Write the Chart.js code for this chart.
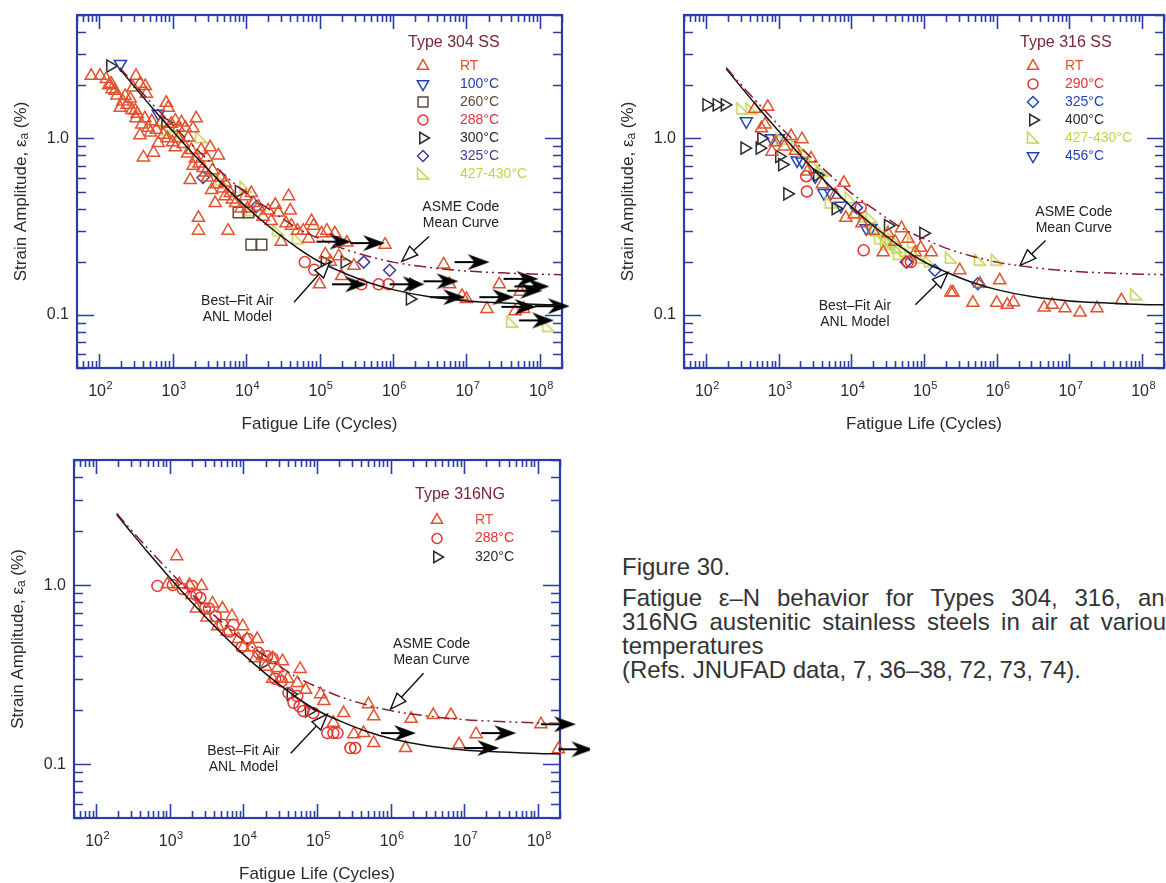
<!DOCTYPE html>
<html>
<head>
<meta charset="utf-8">
<title>Fatigue e-N behavior of austenitic stainless steels</title>
<script src="https://cdn.jsdelivr.net/npm/chart.js@4.4.1/dist/chart.umd.min.js"></script>
<style>
  html, body { margin: 0; padding: 0; background: #fff; }
  body { width: 1166px; height: 883px; position: relative; overflow: hidden; font-family: "Liberation Sans", Arial, sans-serif; }
  canvas { position: absolute; }
  #c304 { left: 0; top: 0; }
  #c316 { left: 600px; top: 0; }
  #c316ng { left: 0; top: 445px; }
  .caption { position: absolute; left: 622px; top: 555px; width: 556px; color: #333; font-size: 24px; line-height: 24px; }
  .caption .fig { margin-bottom: 7px; }
  .caption .just { text-align: justify; text-align-last: justify; }
</style>
</head>
<body>
<canvas id="c304" width="590" height="445"></canvas>
<canvas id="c316" width="600" height="445"></canvas>
<canvas id="c316ng" width="590" height="438"></canvas>
<div class="caption">
  <div class="fig">Figure 30.</div>
  <div class="just">Fatigue &epsilon;&ndash;N behavior for Types 304, 316, and</div>
  <div class="just">316NG austenitic stainless steels in air at various</div>
  <div>temperatures</div>
  <div>(Refs. JNUFAD data, 7, 36&ndash;38, 72, 73, 74).</div>
</div>
<script>
// ---- axis ticks ----
const X_TICK_EXPONENTS = [2, 3, 4, 5, 6, 7, 8];
const Y_TICKS = [0.1, 1.0];
const Y_TICK_LABELS = ['0.1', '1.0'];

// ---- design curves (fatigue life in cycles, strain amplitude in %) ----
const curveN   = [190, 300, 500, 1e3, 2e3, 5e3, 1e4, 2e4, 5e4, 1e5, 2e5, 5e5, 1e6, 3e6, 1e7, 3e7, 1e8, 2e8];
const anlEps   = [2.48, 1.97, 1.53, 1.10, 0.80, 0.54, 0.41, 0.32, 0.24, 0.20, 0.175, 0.151, 0.139, 0.127, 0.120, 0.117, 0.1145, 0.114];
const asmeEps  = [2.52, 2.03, 1.61, 1.19, 0.89, 0.625, 0.49, 0.40, 0.31, 0.27, 0.239, 0.213, 0.199, 0.186, 0.177, 0.173, 0.170, 0.169];

// ---- Type 304 SS ----
const rt304 = [[78,2.26],[103,2.26],[125,2.17],[146,2.04],[165,1.86],[194,1.49],[226,1.74],[265,1.68],[290,1.94],[318,2.26],
  [360,2.04],[425,1.98],[440,1.79],[310,1.44],[318,1.30],[360,1.04],[400,0.78],[465,1.15],[500,1.08],[550,0.83],[640,0.94],
  [820,1.59],[870,1.49],[700,1.23],[960,1.21],[1090,1.26],[1200,1.15],[1320,1.23],[1490,1.15],[1200,1.0],[1090,0.89],
  [1630,1.01],[1900,1.14],[2100,1.30],[1800,0.86],[2050,0.77],[1900,0.70],[1740,0.58],[2450,0.86],[2880,0.78],[2800,0.64],
  [3250,0.89],[4200,0.80],[3400,0.51],[4500,0.60],[3800,0.43],[5200,0.56],[6100,0.49],[5200,0.47],[2250,0.355],[2250,0.30],
  [5700,0.30],[7200,0.43],[9800,0.47],[11800,0.49],[12600,0.43],[14800,0.41],[20000,0.39],[25000,0.42],[38000,0.47],
  [40000,0.39],[27500,0.38],[35000,0.33],[30000,0.26],[41500,0.32],[78000,0.34],[83000,0.32],[71000,0.27],[107000,0.29],
  [126000,0.30],[162000,0.29],[236000,0.257],[183000,0.215],[294000,0.19],[200000,0.166],[100000,0.149],[780000,0.25],
  [4.9e6,0.193],[5.9e6,0.149],[8.7e6,0.128],[1.0e7,0.123],[1.9e7,0.108],[2.8e7,0.149],[5.4e7,0.135],[4.6e7,0.105],[6e7,0.108],
  [135,2.0],[150,1.9],[175,1.75],[210,1.62],[240,1.55],[280,1.45],[330,1.38],[380,1.2],[420,1.3],[520,1.25],[600,1.12],
  [750,1.05],[850,1.0],[1000,0.95],[1400,0.93],[1600,0.82],[2300,0.72],[2600,0.68],[3000,0.6],[3500,0.66],[4000,0.55],
  [4800,0.52],[6500,0.45],[8500,0.4],[10500,0.4],[17000,0.36],[22000,0.34],[50000,0.3],[60000,0.3],[120000,0.22],[140000,0.2]];
const t100_304 = [[195,2.64],[640,1.38]];
const t260_304 = [[7900,0.38],[10800,0.38],[11800,0.25],[16200,0.25]];
const t288_304 = [[63000,0.199],[85000,0.18],[372000,0.149],[640000,0.149],[870000,0.149]];
const t300_304 = [[142,2.57],[800,1.23],[8000,0.5],[118000,0.199],[220000,0.199],[1.7e6,0.123],[1.9e6,0.149]];
const t325_304 = [[2600,0.60],[13800,0.41],[400000,0.199],[900000,0.179]];
const t427_304 = [[820,1.11],[1090,1.08],[2450,1.01],[4600,0.58],[9800,0.53],[11800,0.39],[27500,0.30],[51000,0.27],[4.2e7,0.091],[1.3e8,0.086]];
const runout304 = [[91000,0.26],[2.6e5,0.255],[148000,0.149],[9e5,0.149],[2.6e6,0.155],[3.2e6,0.126],[6.9e6,0.199],
  [1.5e7,0.126],[3.2e7,0.16],[4.5e7,0.145],[3.6e7,0.137],[3e7,0.111],[8.5e7,0.112],[5.2e7,0.093]];

// ---- Type 316 SS ----
const rt316 = [[470,1.47],[710,1.51],[580,1.14],[810,0.84],[1490,1.03],[2100,0.99],[2800,0.77],[7900,0.56],[8400,0.355],
  [27500,0.226],[32000,0.29],[49000,0.31],[76000,0.226],[126000,0.226],[234000,0.134],[250000,0.134],[310000,0.179],
  [470000,0.117],[590000,0.15],[1.0e6,0.117],[1.1e6,0.157],[1.4e6,0.114],[1.7e6,0.118],[4.5e6,0.11],[5.8e6,0.114],
  [8.7e6,0.109],[1.4e7,0.103],[2.4e7,0.109],[5.2e7,0.121],
  [650,1.2],[900,0.95],[1200,0.9],[1700,0.85],[2500,0.65],[4000,0.55],[6000,0.48],[11000,0.37],[20000,0.3],[40000,0.26],
  [90000,0.24],[14000,0.33],[60000,0.27]];
const t290_316 = [[2400,0.61],[2450,0.50],[13500,0.405],[14800,0.232],[60000,0.199],[66000,0.199]];
const t325_316 = [[11800,0.405],[57000,0.199],[141000,0.179],[550000,0.15]];
const t400_316 = [[102,1.55],[141,1.55],[182,1.55],[340,0.88],[550,0.88],[580,1.0],[1020,0.79],[1120,0.71],[1320,0.485],
  [3400,0.62],[6100,0.40],[32000,0.32],[98000,0.29]];
const t427_316 = [[318,1.47],[425,1.47],[1100,0.99],[1800,0.9],[2250,0.84],[3100,0.71],[4000,0.65],[5200,0.43],[9800,0.46],
  [19000,0.355],[25000,0.27],[35000,0.257],[42000,0.24],[71000,0.257],[234000,0.21],[590000,0.204],[1.0e6,0.204],[8.3e7,0.13],
  [12000,0.38],[15000,0.36],[22000,0.3],[28000,0.29],[30000,0.25],[38000,0.27],[45000,0.22],[55000,0.23],[65000,0.22],
  [90000,0.21],[120000,0.2]];
const t456_316 = [[360,1.25],[800,1.0],[1000,1.0],[1800,0.75],[2100,0.74],[3200,0.61],[4200,0.49],[5200,0.49],[7200,0.415],
  [16000,0.31],[18600,0.31]];

// ---- Type 316NG ----
const rt316ng = [[1240,1.45],[930,1.01],[1350,1.01],[1850,1.0],[2700,0.99],[2300,0.74],[3800,0.79],[5200,0.74],[7000,0.67],
  [9800,0.59],[4500,0.59],[8500,0.5],[11200,0.5],[15400,0.5],[14500,0.39],[18000,0.40],[25000,0.39],[34000,0.376],
  [29000,0.344],[59000,0.34],[25000,0.30],[31500,0.30],[54000,0.284],[112000,0.246],[124000,0.225],[230000,0.193],
  [167000,0.17],[316000,0.147],[430000,0.149],[590000,0.131],[500000,0.216],[590000,0.185],[1.6e6,0.123],[1.9e6,0.179],
  [3.8e6,0.188],[6.6e6,0.188],[8.5e6,0.129],[1.45e7,0.147],[1.1e8,0.167],[1.9e8,0.121],
  [2000,0.88],[3200,0.66],[6000,0.55],[10000,0.45],[13000,0.45],[20000,0.35],[40000,0.3],[70000,0.26]];
const t288_316ng = [[680,0.99],[1100,1.0],[2000,0.99],[2600,0.85],[3000,0.74],[3400,0.74],[5200,0.6],[7300,0.6],[11500,0.5],
  [21000,0.40],[25000,0.39],[27000,0.30],[41000,0.25],[54000,0.24],[65000,0.198],[89000,0.193],[138000,0.149],
  [167000,0.149],[190000,0.149],[284000,0.123],[330000,0.123],
  [1500,0.95],[2300,0.88],[4200,0.67],[6500,0.55],[9500,0.45],[16000,0.42],[33000,0.29],[48000,0.22],[58000,0.21]];
const t320_316ng = [[18700,0.367],[44000,0.246],[78000,0.198]];
const runout316ng = [[7.4e5,0.149],[1.7e7,0.149],[1.0e7,0.123],[1.1e8,0.167],[1.9e8,0.121]];

// ---- styling ----
const N_MIN = 50, N_MAX = 2e8, EPS_MIN = 0.05, EPS_MAX = 5;
const FONT = '"Liberation Sans", Arial, sans-serif';
const FRAME = '#2b3ca6';
const TEXT = '#2a2a2a';

function wedge(color) {
  const c = document.createElement('canvas');
  c.width = 16; c.height = 16;
  const g = c.getContext('2d');
  g.strokeStyle = color; g.lineWidth = 1.5;
  g.beginPath(); g.moveTo(2.5, 2); g.lineTo(2.5, 13); g.lineTo(13.5, 13); g.closePath(); g.stroke();
  return c;
}
function runoutArrow() {
  // tail sits at the canvas centre, so the arrow starts on the data point
  const c = document.createElement('canvas');
  c.width = 72; c.height = 20;
  const g = c.getContext('2d');
  g.strokeStyle = '#000'; g.lineWidth = 2;
  g.beginPath(); g.moveTo(36, 10); g.lineTo(58, 10); g.stroke();
  g.fillStyle = '#000';
  g.beginPath(); g.moveTo(71, 10); g.lineTo(49, 2); g.lineTo(56, 10); g.lineTo(49, 18); g.closePath(); g.fill();
  return c;
}

const MK = {
  up:    { pointStyle: 'triangle', rotation: 0,   radius: 7 },
  down:  { pointStyle: 'triangle', rotation: 180, radius: 7 },
  right: { pointStyle: 'triangle', rotation: 90,  radius: 7 },
  rect:  { pointStyle: 'rect',     rotation: 0,   radius: 7.5 },
  circ:  { pointStyle: 'circle',   rotation: 0,   radius: 5.5 },
  diam:  { pointStyle: 'rectRot',  rotation: 0,   radius: 6 }
};
const C = { rt: '#e2522e', blue: '#2342b4', brown: '#5e4a36', red: '#e53232', black: '#2a2a2a', navy: '#43389f', lime: '#c4d24c' };

function pts(arr) { return arr.map(([x, y]) => ({ x, y })); }
function markers(label, arr, mk, color, labelColor) {
  return {
    label, data: pts(arr), showLine: false, clip: false, inLegend: true, labelColor: labelColor || color,
    pointStyle: mk.pointStyle, pointRotation: mk.rotation || 0, pointRadius: mk.radius || 6, pointHoverRadius: mk.radius || 6,
    pointBorderColor: color, pointBackgroundColor: 'rgba(0,0,0,0)', pointBorderWidth: 1.5, order: 2
  };
}
function wedges(label, arr) {
  const img = wedge(C.lime);
  return { label, data: pts(arr), showLine: false, clip: false, inLegend: true, labelColor: C.lime,
    pointStyle: img, pointRadius: 6, pointBorderColor: C.lime, pointBorderWidth: 1.5, order: 2 };
}
function runouts(arr) {
  return { label: 'runout', data: pts(arr), showLine: false, clip: false, pointStyle: runoutArrow(), pointRadius: 8, order: 1 };
}
function curve(label, ys, color, dash) {
  return { label, data: curveN.map((x, i) => ({ x, y: ys[i] })), showLine: true, pointRadius: 0, borderColor: color,
    borderWidth: 1.5, borderDash: dash, cubicInterpolationMode: 'monotone', fill: false, order: 0 };
}

const LAYOUT = {
  c304: {
    yWidth: 77, xHeight: 77, pad: { top: 15, right: 28, left: 0, bottom: 0 },
    legend: { title: 'Type 304 SS', titleDx: 154, titleDy: 28, markerDx: 139, labelDx: 102, rowDy: 51, row: 18 },
    notes: [
      { lines: ['ASME Code', 'Mean Curve'], at: [8.4e6, 0.41], from: [3.1e6, 0.278], to: [1.32e6, 0.201] },
      { lines: ['Best\u2013Fit Air', 'ANL Model'], at: [7600, 0.12], from: [45000, 0.118], to: [1.38e5, 0.199] }
    ]
  },
  c316: {
    yWidth: 84, xHeight: 77, pad: { top: 15, right: 36, left: 0, bottom: 0 },
    legend: { title: 'Type 316 SS', titleDx: 144, titleDy: 28, markerDx: 131, labelDx: 99, rowDy: 51, row: 18 },
    notes: [
      { lines: ['ASME Code', 'Mean Curve'], at: [1.15e7, 0.384], from: [4.7e6, 0.264], to: [2.1e6, 0.191] },
      { lines: ['Best\u2013Fit Air', 'ANL Model'], at: [11200, 0.112], from: [76000, 0.114], to: [2.14e5, 0.174] }
    ]
  },
  c316ng: {
    yWidth: 74, xHeight: 65, pad: { top: 15, right: 30, left: 0, bottom: 0 },
    legend: { title: 'Type 316NG', titleDx: 145, titleDy: 35, markerDx: 123, labelDx: 85, rowDy: 60, row: 18.5 },
    notes: [
      { lines: ['ASME Code', 'Mean Curve'], at: [3.6e6, 0.468], from: [2.8e6, 0.322], to: [1.0e6, 0.203] },
      { lines: ['Best\u2013Fit Air', 'ANL Model'], at: [1.0e4, 0.118], from: [44000, 0.115], to: [1.38e5, 0.19] }
    ]
  }
};

function decadeTicks(min, max) {
  const out = [];
  for (let k = Math.floor(Math.log10(min)); k <= Math.ceil(Math.log10(max)); k++) {
    for (let m = 1; m < 10; m++) {
      const v = m * Math.pow(10, k);
      if (v >= min * 0.999 && v <= max * 1.001) out.push({ v, major: m === 1 });
    }
  }
  return out;
}

function openArrow(ctx, fx, fy, tx, ty) {
  const dx = tx - fx, dy = ty - fy, L = Math.hypot(dx, dy);
  const ux = dx / L, uy = dy / L, nx = -uy, ny = ux;
  const bx = tx - ux * 16, by = ty - uy * 16;
  ctx.beginPath(); ctx.moveTo(fx, fy); ctx.lineTo(bx, by); ctx.stroke();
  ctx.beginPath();
  ctx.moveTo(tx, ty); ctx.lineTo(bx + nx * 6, by + ny * 6); ctx.lineTo(bx - nx * 6, by - ny * 6); ctx.closePath();
  ctx.fillStyle = '#fff'; ctx.fill(); ctx.stroke();
}

const figurePlugin = {
  id: 'figure',
  beforeDatasetsDraw(chart) {
    const { ctx, chartArea: a, scales: { x, y } } = chart;
    ctx.save();
    ctx.strokeStyle = FRAME;
    ctx.lineWidth = 1.6;
    ctx.beginPath();
    for (const t of decadeTicks(N_MIN, N_MAX)) {
      const px = Math.round(x.getPixelForValue(t.v)) + 0.5, len = t.major ? 14 : 7;
      ctx.moveTo(px, a.bottom); ctx.lineTo(px, a.bottom - len);
      ctx.moveTo(px, a.top); ctx.lineTo(px, a.top + len);
    }
    for (const t of decadeTicks(EPS_MIN, EPS_MAX)) {
      const py = Math.round(y.getPixelForValue(t.v)) + 0.5, len = t.major ? 17 : 9;
      ctx.moveTo(a.left, py); ctx.lineTo(a.left + len, py);
      ctx.moveTo(a.right, py); ctx.lineTo(a.right - len, py);
    }
    ctx.stroke();
    ctx.lineWidth = 2.2;
    ctx.strokeRect(a.left, a.top, a.right - a.left, a.bottom - a.top);
    ctx.restore();
  },
  afterDatasetsDraw(chart) {
    const cfg = LAYOUT[chart.canvas.id];
    const { ctx, chartArea: a, scales: { x, y } } = chart;
    ctx.save();
    ctx.fillStyle = TEXT;
    // x tick labels 10^k
    for (const e of X_TICK_EXPONENTS) {
      const px = x.getPixelForValue(Math.pow(10, e));
      ctx.font = '16px ' + FONT; const w1 = ctx.measureText('10').width;
      ctx.font = '11px ' + FONT; const w2 = ctx.measureText(String(e)).width;
      const x0 = px - (w1 + w2) / 2 + 1;
      ctx.textAlign = 'left'; ctx.textBaseline = 'alphabetic';
      ctx.font = '16px ' + FONT; ctx.fillText('10', x0, a.bottom + 28);
      ctx.font = '11px ' + FONT; ctx.fillText(String(e), x0 + w1 + 0.5, a.bottom + 21);
    }
    // y tick labels
    ctx.font = '16px ' + FONT; ctx.textAlign = 'right'; ctx.textBaseline = 'middle';
    Y_TICKS.forEach((v, i) => ctx.fillText(Y_TICK_LABELS[i], a.left - 8, y.getPixelForValue(v)));
    // x title
    ctx.font = '17px ' + FONT; ctx.textAlign = 'center'; ctx.textBaseline = 'middle';
    ctx.fillText('Fatigue Life (Cycles)', (a.left + a.right) / 2, a.bottom + 56);
    // y title with subscript
    ctx.save();
    ctx.translate(a.left - 56, (a.top + a.bottom) / 2);
    ctx.rotate(-Math.PI / 2);
    const parts = [['Strain Amplitude, \u03b5', 17, 0], ['a', 12, 4], [' (%)', 17, 0]];
    let total = 0;
    for (const p of parts) { ctx.font = p[1] + 'px ' + FONT; total += ctx.measureText(p[0]).width; }
    let cx = -total / 2;
    ctx.textAlign = 'left';
    for (const p of parts) {
      ctx.font = p[1] + 'px ' + FONT; ctx.fillText(p[0], cx, p[2]); cx += ctx.measureText(p[0]).width;
    }
    ctx.restore();

    // legend
    const lg = cfg.legend;
    ctx.textAlign = 'left'; ctx.textBaseline = 'middle';
    ctx.font = '16px ' + FONT; ctx.fillStyle = '#7a2733';
    ctx.fillText(lg.title, a.right - lg.titleDx, a.top + lg.titleDy);
    chart.data.datasets.filter(d => d.inLegend).forEach((d, i) => {
      const yy = a.top + lg.rowDy + i * lg.row, mx = a.right - lg.markerDx;
      ctx.save();
      ctx.strokeStyle = d.pointBorderColor; ctx.fillStyle = 'rgba(0,0,0,0)'; ctx.lineWidth = d.pointBorderWidth;
      Chart.helpers.drawPoint(ctx, { pointStyle: d.pointStyle, rotation: d.pointRotation || 0, radius: d.pointRadius - 0.5, borderWidth: d.pointBorderWidth }, mx, yy);
      ctx.restore();
      ctx.font = '14px ' + FONT; ctx.fillStyle = d.labelColor;
      ctx.fillText(d.label, a.right - lg.labelDx, yy);
    });

    // annotations
    ctx.strokeStyle = '#111'; ctx.lineWidth = 1.4;
    for (const n of cfg.notes) {
      const tx = x.getPixelForValue(n.at[0]), ty = y.getPixelForValue(n.at[1]);
      ctx.font = '14px ' + FONT; ctx.fillStyle = '#222'; ctx.textAlign = 'center'; ctx.textBaseline = 'middle';
      n.lines.forEach((s, i) => ctx.fillText(s, tx, ty + i * 16));
      openArrow(ctx, x.getPixelForValue(n.from[0]), y.getPixelForValue(n.from[1]),
        x.getPixelForValue(n.to[0]), y.getPixelForValue(n.to[1]));
    }
    ctx.restore();
  }
};

function makeChart(id, datasets) {
  const L = LAYOUT[id];
  return new Chart(document.getElementById(id), {
    type: 'scatter',
    data: { datasets },
    options: {
      responsive: false, animation: false, events: [],
      layout: { padding: L.pad },
      plugins: { legend: { display: false }, tooltip: { enabled: false } },
      scales: {
        x: { type: 'logarithmic', min: N_MIN, max: N_MAX, ticks: { display: false }, grid: { display: false },
             border: { display: false }, afterFit(s) { s.height = L.xHeight; } },
        y: { type: 'logarithmic', min: EPS_MIN, max: EPS_MAX, ticks: { display: false }, grid: { display: false },
             border: { display: false }, afterFit(s) { s.width = L.yWidth; } }
      }
    },
    plugins: [figurePlugin]
  });
}

const asmeDash = [12, 4, 2, 4, 2, 4];

makeChart('c304', [
  markers('RT', rt304, MK.up, C.rt),
  markers('100\u00b0C', t100_304, MK.down, C.blue),
  markers('260\u00b0C', t260_304, MK.rect, C.brown),
  markers('288\u00b0C', t288_304, MK.circ, C.red),
  markers('300\u00b0C', t300_304, MK.right, C.black),
  markers('325\u00b0C', t325_304, MK.diam, C.navy),
  wedges('427-430\u00b0C', t427_304),
  runouts(runout304),
  curve('ASME mean', asmeEps, '#8a1c2c', asmeDash),
  curve('ANL best fit', anlEps, '#111', [])
]);

makeChart('c316', [
  markers('RT', rt316, MK.up, C.rt),
  markers('290\u00b0C', t290_316, MK.circ, C.red),
  markers('325\u00b0C', t325_316, MK.diam, C.blue),
  markers('400\u00b0C', t400_316, MK.right, C.black),
  wedges('427-430\u00b0C', t427_316),
  markers('456\u00b0C', t456_316, MK.down, C.blue),
  curve('ASME mean', asmeEps, '#8a1c2c', asmeDash),
  curve('ANL best fit', anlEps, '#111', [])
]);

makeChart('c316ng', [
  markers('RT', rt316ng, MK.up, C.rt),
  markers('288\u00b0C', t288_316ng, MK.circ, C.red),
  markers('320\u00b0C', t320_316ng, MK.right, C.black),
  runouts(runout316ng),
  curve('ASME mean', asmeEps, '#8a1c2c', asmeDash),
  curve('ANL best fit', anlEps, '#111', [])
]);
</script>
</body>
</html>
